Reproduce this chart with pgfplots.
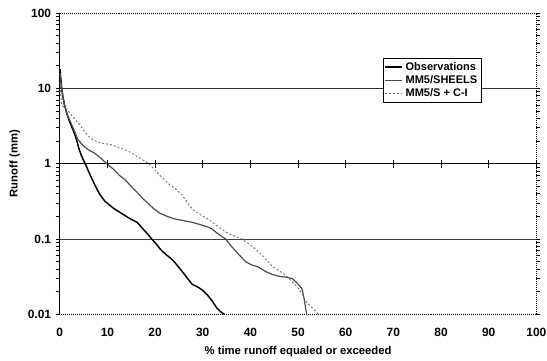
\documentclass[border=0pt]{standalone}
\usepackage{pgfplots}
\pgfplotsset{compat=1.18}
\usetikzlibrary{calc}
\usepackage{fontspec}
\setmainfont{Liberation Sans}
\begin{document}
\begin{tikzpicture}
\begin{axis}[
  scale only axis,
  width=359pt, height=227pt,
  ymode=log,
  xmin=0, xmax=100, ymin=0.01, ymax=100,
  xtick={0,10,...,100},
  ytick={0.01,0.1,1,10,100},
  yticklabels={0.01,0.1,1,10,100},
  x tick style={draw=none},
  y tick style={black, line width=0.5pt},
  tick align=outside,
  major tick length=3pt,
  minor tick num=0,
  log ticks with fixed point,
  axis line style={draw=none},
  ticklabel style={font=\bfseries\fontsize{9}{10}\selectfont},
  /pgf/number format/assume math mode=true,
  xticklabel style={yshift=-4pt},
  xlabel={\% time runoff equaled or exceeded},
  ylabel={Runoff (mm)},
  label style={font=\bfseries\fontsize{8.5}{10}\selectfont},
  xlabel style={yshift=0pt},
  ylabel style={yshift=-1pt},
  legend style={at={(rel axis cs:0.678,0.851)}, anchor=north west, draw=black, line width=0.4pt, fill=white, font=\bfseries\fontsize{8.3}{9}\selectfont, inner sep=1pt, row sep=-1.5pt, cells={anchor=west}},
  legend image code/.code={\draw[#1] (0cm,0cm) -- (0.45cm,0cm);},
  clip=false,
]
% frame and gridlines
\draw[black, densely dotted, line width=0.5pt] (rel axis cs:0,1) -- (rel axis cs:1,1) -- (rel axis cs:1,0) -- (rel axis cs:0,0);
\draw[black, line width=0.7pt] (rel axis cs:0,0) -- (rel axis cs:0,1);
\draw[black!80, line width=0.6pt] (axis cs:0,10) -- (axis cs:100,10);
\draw[black, line width=0.6pt] (axis cs:0,1) -- (axis cs:100,1);
\draw[black!75, line width=0.6pt] (axis cs:0,0.1) -- (axis cs:100,0.1);
\coordinate (oneL) at (axis cs:0,1);
\coordinate (oneR) at (axis cs:100,1);

\addplot[black, line width=1.1pt] coordinates {
(0.05,18)(0.2,14)(0.4,10)(0.7,7.5)(1,6)(1.5,4.6)(2,3.7)(2.5,3.1)(3,2.6)(3.5,2.1)(4,1.6)(4.5,1.3)(5,1.1)(5.5,0.95)(6,0.8)(6.7,0.64)(7.5,0.5)(8.3,0.4)(9.4,0.32)(10.5,0.28)(11.5,0.25)(12.9,0.22)(14.5,0.19)(16.3,0.165)(17.5,0.135)(18.5,0.115)(19.3,0.1)(20.3,0.085)(21.2,0.072)(22.3,0.062)(23.2,0.056)(24,0.05)(25,0.042)(26,0.035)(26.8,0.03)(27.8,0.025)(29,0.023)(29.9,0.021)(31,0.018)(32,0.015)(33,0.012)(34,0.0105)(34.6,0.01)
};
\addlegendentry{Observations}
\addplot[black!70, line width=0.9pt] coordinates {
(0.05,16)(0.3,11)(0.6,8)(1,6)(1.5,4.6)(2,3.9)(2.5,3.3)(3.2,2.6)(3.8,2.1)(4.5,1.85)(5.2,1.67)(6.2,1.5)(7.3,1.38)(8.5,1.2)(10,0.98)(11.5,0.82)(12.5,0.7)(13.6,0.62)(15,0.5)(16.3,0.41)(17.5,0.34)(18.7,0.29)(19.8,0.25)(21,0.22)(22.5,0.2)(24,0.185)(25.5,0.178)(27,0.17)(28,0.165)(29.5,0.155)(31,0.145)(32,0.135)(33,0.12)(34,0.108)(34.8,0.1)(36,0.08)(37.6,0.062)(39,0.05)(40.3,0.045)(41.5,0.043)(43.2,0.037)(44.5,0.034)(46,0.032)(47.5,0.031)(48.7,0.03)(49.8,0.026)(50.8,0.022)(51.2,0.017)(51.5,0.013)(51.8,0.01)
};
\addlegendentry{MM5/SHEELS}
\addplot[black!55, line width=0.7pt, dash pattern=on 1.5pt off 1.5pt] coordinates {
(0.05,12)(0.4,6)(1.7,5.1)(2.7,4.2)(3.8,3.5)(4.8,2.9)(5.8,2.4)(6.8,2.1)(7.9,1.95)(9.3,1.85)(10.9,1.78)(12.2,1.65)(13.6,1.53)(15,1.4)(16.3,1.24)(17.4,1.12)(18.4,1.03)(19.8,0.85)(21.3,0.67)(23,0.53)(24.5,0.45)(25.7,0.38)(27,0.29)(27.8,0.25)(29.5,0.21)(31.3,0.18)(33,0.15)(34.9,0.123)(36.5,0.11)(38.2,0.1)(40,0.083)(41.8,0.067)(43.2,0.054)(44.5,0.044)(46,0.038)(47.4,0.033)(48.8,0.027)(50.1,0.022)(51,0.018)(51.6,0.015)(52.5,0.013)(53.7,0.011)(54.2,0.01)
};
\addlegendentry{MM5/S + C-I}
\end{axis}
\foreach \f in {0.1,0.2,0.3,0.4,0.5,0.6,0.7,0.8,0.9,1.0}{
  \draw[black, line width=0.7pt] ($(oneL)!\f!(oneR)$) ++(0pt,-3pt) -- ++(0pt,6pt);
}
\pgfresetboundingbox
\path (current axis.south west) ++(-45pt,-34.5pt) coordinate (bbA);
\path (current axis.north east) ++(8pt,9.75pt) coordinate (bbB);
\path[use as bounding box] (bbA) rectangle (bbB);
\end{tikzpicture}
\end{document}
